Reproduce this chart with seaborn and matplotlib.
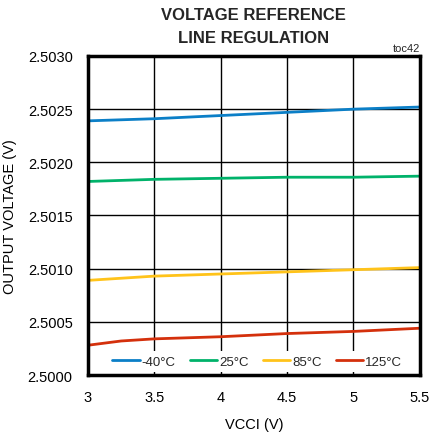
import pandas as pd
import numpy as np
import matplotlib
matplotlib.use("Agg")
import matplotlib.pyplot as plt
import seaborn as sns

# ── Data ───────────────────────────────────────────────────────────────────────

vcci = [3.0, 3.25, 3.5, 4.0, 4.5, 5.0, 5.5]
v_m40 = [2.50239, 2.50240, 2.50241, 2.50244, 2.50247, 2.50250, 2.50252]
v_25 = [2.50182, 2.50183, 2.50184, 2.50185, 2.50186, 2.50186, 2.50187]
v_85 = [2.50089, 2.50091, 2.50093, 2.50095, 2.50097, 2.50099, 2.50101]
v_125 = [2.50028, 2.50032, 2.50034, 2.50036, 2.50039, 2.50041, 2.50044]
temps = ["-40°C", "25°C", "85°C", "125°C"]
colors = ["#0b7fc7", "#00b26a", "#ffc31a", "#d4300c"]

# ── Setup ──────────────────────────────────────────────────────────────────────

sns.set_theme(style="white")
plt.rcParams["font.family"] = ["Liberation Sans", "DejaVu Sans"]

rows = []
for name, vals in zip(temps, [v_m40, v_25, v_85, v_125]):
    for x, y in zip(vcci, vals):
        rows.append({"vcci": x, "vout": y, "temp": name})
df = pd.DataFrame(rows)

fig = plt.figure(figsize=(4.41, 4.35), dpi=100)
ax = fig.add_axes([0.1995, 0.1356, 0.7525, 0.7334])

sns.lineplot(data=df, x="vcci", y="vout", hue="temp", hue_order=temps,
             palette=colors, linewidth=2, ax=ax)

ax.set_xlim(3, 5.5)
ax.set_ylim(2.5000, 2.5030)
ax.set_xticks([3, 3.5, 4, 4.5, 5, 5.5])
ax.set_xticklabels(["3", "3.5", "4", "4.5", "5", "5.5"])
yt = np.arange(2.5000, 2.50301, 0.0005)
ax.set_yticks(yt)
ax.set_yticklabels([f"{v:.4f}" for v in yt])
ax.tick_params(axis="y", length=0, labelsize=10.5, colors="black", pad=11)
ax.tick_params(axis="x", length=0, labelsize=10.5, colors="black", pad=11)
ax.grid(True, color="black", linewidth=1)
for s in ax.spines.values():
    s.set_color("black")
    s.set_linewidth(2.5)

ax.set_xlabel("VCCI (V)", fontsize=10.5, color="black", labelpad=9)
ax.set_ylabel("OUTPUT VOLTAGE (V)", fontsize=10.5, color="black")
ax.yaxis.set_label_coords(-0.215, 0.5)

leg = ax.legend(loc="lower center", ncol=4, frameon=True, framealpha=1,
                edgecolor="white", fontsize=9.5, handlelength=2.1,
                handletextpad=0.15, columnspacing=1.05, borderpad=0.3,
                bbox_to_anchor=(0.51, -0.01))
leg.get_frame().set_linewidth(0)

fig.text(0.575, 0.965, "VOLTAGE REFERENCE", ha="center", va="center",
         fontsize=12, fontweight="bold")
fig.text(0.575, 0.912, "LINE REGULATION", ha="center", va="center",
         fontsize=12, fontweight="bold")
fig.text(0.952, 0.875, "toc42", ha="right", va="bottom", fontsize=8)

fig.savefig("out.png", dpi=100)
